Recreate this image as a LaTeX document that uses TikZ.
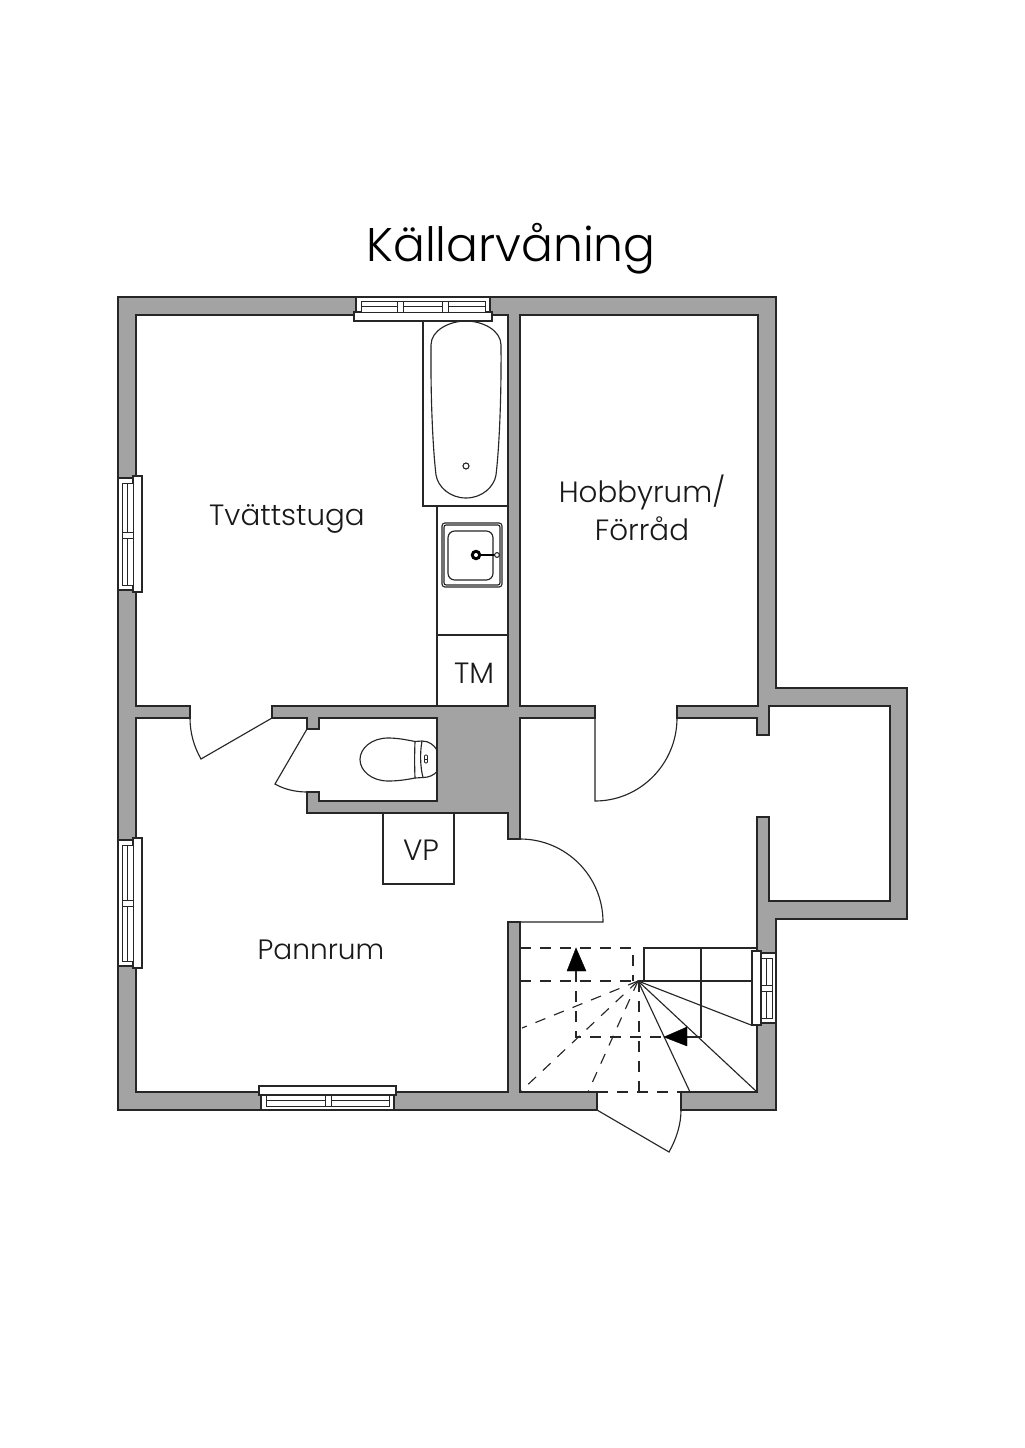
\documentclass[tikz,border=0pt]{standalone}
\usepackage{fontspec}
\setmainfont{Poppins}[UprightFont=*-Light]
\definecolor{wallgray}{HTML}{A3A3A3}
\tikzset{
  wall/.style={fill=wallgray,draw=black!85,line width=1.1pt,line join=miter},
  thin line/.style={draw=black!85,line width=0.85pt},
  fixture/.style={draw=black!85,line width=0.8pt,fill=white},
  dashline/.style={draw=black!85,line width=0.85pt,dash pattern=on 8pt off 7pt},
  arrowtri/.style={fill=black,draw=black,line width=0.3pt},
  label/.style={font=\fontsize{22}{26}\selectfont,text=black!90,inner sep=0pt},
}
% #1,#2 origin; #3,#4 u vector; #5,#6 v vector (in px units, y down); #7 length; #8 mullion list
\newcommand{\winpart}[8]{%
\begin{scope}[shift={(#1,#2)},x={(#3*0.75pt,-#4*0.75pt)},y={(#5*0.75pt,-#6*0.75pt)}]
  \path[fixture] (-2,15) rectangle (#7+2,24);
  \path[fixture] (0,0) rectangle (#7,15);
  \path[fixture,line width=0.7pt] (5,4) rectangle (#7-5,15);
  \draw[thin line,line width=0.7pt] (5,9.5) -- (#7-5,9.5);
  \foreach \m in {#8} {
    \path[fixture,line width=0.7pt] (\m-3,4) rectangle (\m+3,15);
  }
\end{scope}}
\begin{document}
\begin{tikzpicture}[x=0.75pt,y=-0.75pt]
\useasboundingbox (0,0) rectangle (1024,1448);
\fill[white] (0,0) rectangle (1024,1448);

% walls: one outline running round the outside and back round the rooms
\path[wall] (681,1110) -- (776,1110) -- (776,919) -- (907,919) -- (907,688) -- (776,688) -- (776,297) -- (118,297) -- (118,1110) -- (597,1110)
 -- (597,1092) -- (520,1092) -- (520,922) -- (508,922) -- (508,1092) -- (136,1092) -- (136,718) -- (190,718) -- (190,706) -- (136,706) -- (136,315)
 -- (508,315) -- (508,706) -- (272,706) -- (272,718) -- (307,718) -- (307,729) -- (319,729) -- (319,718) -- (437,718) -- (437,801) -- (319,801) -- (319,792) -- (307,792) -- (307,813)
 -- (508,813) -- (508,839) -- (520,839) -- (520,718) -- (595,718) -- (595,706) -- (520,706) -- (520,315) -- (758,315) -- (758,706) -- (677,706) -- (677,718)
 -- (757,718) -- (757,735) -- (769,735) -- (769,706) -- (890,706) -- (890,901) -- (769,901) -- (769,817) -- (757,817) -- (757,1092) -- (681,1092) -- cycle;

% windows
\winpart{356}{297}{1}{0}{0}{1}{134}{44,89.5}
\winpart{118}{478}{0}{1}{1}{0}{112}{57}
\winpart{118}{840}{0}{1}{1}{0}{126}{63}
\winpart{261}{1110}{1}{0}{0}{-1}{133}{67}
\winpart{776}{953}{0}{1}{-1}{0}{70}{35.5}

% doors
\draw[thin line] (190,718) .. controls (190,732.4) and (193.8,746.5) .. (201,759) -- (272,718);
\draw[thin line] (307,729) -- (275,784) .. controls (284.5,789.5) and (296,792) .. (307,792);
\draw[thin line] (595,718) -- (595,801) .. controls (640.5,801) and (677,763.5) .. (677,718);
\draw[thin line] (508,839) -- (520,839) .. controls (565.8,839) and (603,876) .. (603,922) -- (520,922);
\draw[thin line] (597,1110) -- (669,1152) .. controls (676.3,1139) and (681,1124.6) .. (681,1110);

% bath
\draw[thin line] (423,321) -- (423,506) -- (508,506);
\draw[thin line] (431,345) .. controls (431,330) and (450,321) .. (466,321) .. controls (482,321) and (501,330) .. (501,345)
  .. controls (501.5,400) and (499,450) .. (496,475) .. controls (494,487) and (482,498) .. (466,498)
  .. controls (450,498) and (438,487) .. (436,475) .. controls (433,450) and (430.5,400) .. (431,345) -- cycle;
\draw[thin line] (466,466) circle[radius=3];

% sink and machine cabinet
\draw[thin line] (437,506) -- (437,706);
\draw[thin line] (437,635) -- (508,635);
\draw[thin line,rounded corners=2.2pt] (442,523) rectangle (502,587);
\draw[thin line,rounded corners=1.6pt] (444,525) rectangle (500,585);
\draw[thin line,rounded corners=5pt] (448,531) rectangle (493,580);
\draw[black,line width=1.7pt] (476,555) -- (497,555);
\fill[black] (476,555) circle[radius=5.3];
\fill[white] (476,555) circle[radius=2];
\path[fixture] (497,555) circle[radius=2.4];

% WC
\draw[thin line] (415,741.5) .. controls (405,739.5) and (397,738) .. (388,738) .. controls (372,738) and (360,748) .. (360,759.5)
  .. controls (360,771) and (372,781) .. (388,781) .. controls (397,781) and (405,780) .. (415,778)
  .. controls (414.5,765) and (414.5,755) .. (415,741.5) -- cycle;
\draw[thin line] (415,741.5) -- (422,741) .. controls (429,741) and (434,745) .. (437,750);
\draw[thin line] (415,778) -- (423,777.5) .. controls (429,777.5) and (434,775) .. (437,771.5);
\draw[thin line] (422,741) .. controls (420,752) and (420,766) .. (423,777.5);
\draw[thin line,line width=0.7pt,rounded corners=0.8pt] (424.5,755) rectangle (427.5,763);
\draw[thin line,line width=0.7pt] (424.5,759) -- (427.5,759);

% VP box
\draw[thin line] (383,813) -- (383,884) -- (454,884) -- (454,813);

% stairs
\draw[thin line] (644,981) -- (644,948) -- (757,948);
\draw[thin line] (638,981) -- (751,981);
\draw[thin line] (701,948) -- (701,1037) -- (687,1037);
\draw[thin line] (638,981) -- (751,1025);
\draw[thin line] (638,981) -- (757,1092);
\draw[thin line] (638,981) -- (690,1092);
\draw[dashline] (520,948) -- (633,948) -- (633,981);
\draw[dashline] (520,981) -- (638,981);
\draw[dashline] (576,971) -- (576,1037) -- (664,1037);
\draw[dashline] (639,981) -- (639,1092);
\draw[dashline] (597,1092) -- (681,1092);
\draw[dashline] (638,981) -- (522,1028);
\draw[dashline] (638,981) -- (520,1092);
\draw[dashline] (638,981) -- (588,1092);
\path[arrowtri] (576,948) -- (586,971) -- (567,971) -- cycle;
\path[arrowtri] (664,1037) -- (687,1027) -- (687,1046) -- cycle;

% labels
\node[font=\fontsize{35.4}{40}\selectfont,text=black,inner sep=0pt] (title) at (511,249) {Källarvåning};
\node[label] (tvatt) at (287,519) {Tvättstuga};
\node[label] (hobby) at (642,492) {Hobbyrum/};
\node[label] (forrad) at (642,529) {Förråd};
\node[label] (tm) at (474,673) {TM};
\node[label] (vp) at (421,850) {VP};
\node[label,font=\fontsize{21}{26}\selectfont] (pann) at (321,950) {Pannrum};
\end{tikzpicture}
\end{document}
